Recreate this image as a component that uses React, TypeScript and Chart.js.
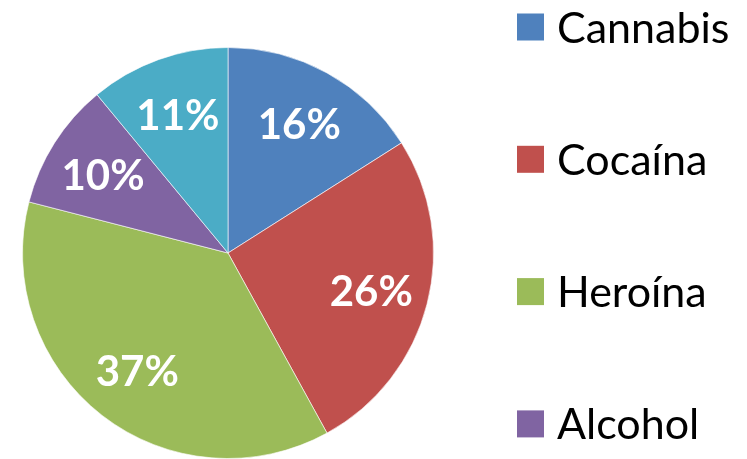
import React, { useEffect, useRef } from "react";
import { Chart, registerables } from "chart.js";

Chart.register(...registerables);

const categories = ["Cannabis", "Cocaína", "Heroína", "Alcohol", "Otras"];
const values = [16, 26, 37, 10, 11];
const colors = ["#4F81BD", "#C0504D", "#9BBB59", "#8064A2", "#4BACC6"];

const FONT = "Lato, 'Open Sans', sans-serif";

const labelsPlugin = {
  id: "pctLabels",
  afterDatasetsDraw(chart: any) {
    const ctx = chart.ctx;
    const meta = chart.getDatasetMeta(0);
    const total = values.reduce((a, b) => a + b, 0);
    ctx.save();
    ctx.fillStyle = "#FFFFFF";
    ctx.font = `bold 42px ${FONT}`;
    ctx.textAlign = "center";
    ctx.textBaseline = "alphabetic";
    meta.data.forEach((arc: any, i: number) => {
      const { x, y, startAngle, endAngle, outerRadius } = arc.getProps(
        ["x", "y", "startAngle", "endAngle", "outerRadius"],
        true
      );
      const mid = (startAngle + endAngle) / 2;
      const r = outerRadius * 0.72;
      const lx = x + Math.cos(mid) * r;
      const ly = y + Math.sin(mid) * r;
      const pct = Math.round((values[i] / total) * 100) + "%";
      ctx.fillText(pct, lx, ly + 16);
    });
    ctx.restore();
  },
};

const legendPlugin = {
  id: "sideLegend",
  afterDraw(chart: any) {
    const ctx = chart.ctx;
    ctx.save();
    ctx.font = `43px ${FONT}`;
    ctx.textAlign = "left";
    ctx.textBaseline = "alphabetic";
    categories.forEach((c, i) => {
      const cy = 27 + i * 132.3;
      ctx.fillStyle = colors[i];
      ctx.fillRect(517, cy - 13.5, 27, 27);
      ctx.fillStyle = "#000000";
      ctx.fillText(c, 557, cy + 15.5);
    });
    ctx.restore();
  },
};

export default function App() {
  const ref = useRef<HTMLCanvasElement>(null);
  useEffect(() => {
    if (!ref.current) return;
    const chart = new Chart(ref.current, {
      type: "pie",
      data: {
        labels: categories,
        datasets: [
          {
            data: values,
            backgroundColor: colors,
            borderColor: "rgba(255,255,255,0.6)",
            borderWidth: 1,
          },
        ],
      },
      options: {
        animation: false,
        responsive: false,
        layout: { padding: { top: 47, bottom: 0, left: 22, right: 313 } },
        plugins: {
          legend: { display: false },
          tooltip: { enabled: false },
        },
      },
      plugins: [labelsPlugin, legendPlugin],
    });
    return () => chart.destroy();
  }, []);
  return (
    <div
      style={{
        position: "fixed",
        left: 0,
        top: 0,
        width: 747,
        height: 459,
        background: "#FFFFFF",
        overflow: "hidden",
      }}
    >
      <canvas ref={ref} width={747} height={459} style={{ display: "block" }} />
    </div>
  );
}
